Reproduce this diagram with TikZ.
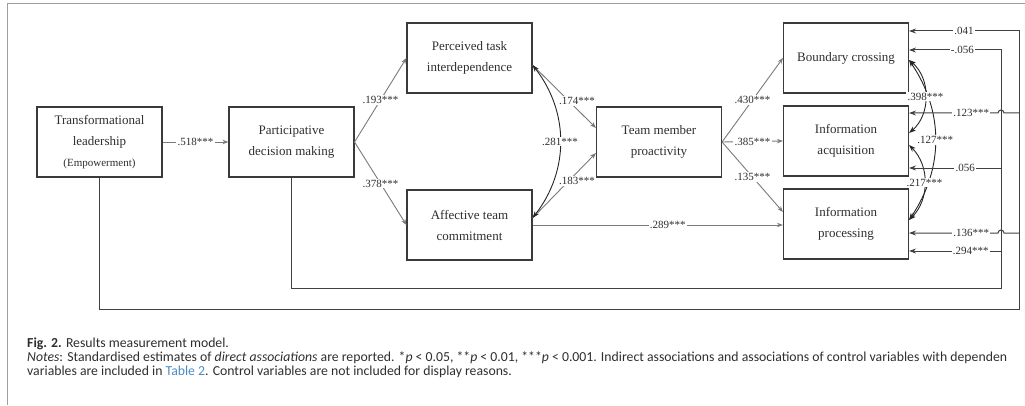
\documentclass[tikz,border=0pt]{standalone}
\usepackage{fontspec}
\setmainfont{Liberation Serif}
\newfontfamily\capfont{Carlito}
\usetikzlibrary{arrows.meta,positioning}
\definecolor{linegray}{HTML}{7A7A7A}
\definecolor{boxgray}{HTML}{3A3A3A}
\definecolor{textgray}{HTML}{2E2E2E}
\definecolor{tableblue}{HTML}{4A8CC6}

\begin{document}
\begin{tikzpicture}[x=1pt,y=1pt,
    var/.style={draw=boxgray,line width=1.1pt,minimum width=125pt,minimum height=70pt,
      align=center,inner sep=2pt,text=textgray,font=\fontsize{13}{21}\selectfont},
    link/.style={draw=linegray,line width=0.9pt,-{Stealth[length=6pt,width=4.5pt]}},
    corr/.style={draw=black!85,line width=0.9pt,{Stealth[length=7pt,width=5pt]}-{Stealth[length=7pt,width=5pt]}},
    ctrl/.style={draw=black!75,line width=1pt},
    ctip/.style={-{Stealth[length=7pt,width=5pt]}},
    est/.style={fill=white,inner sep=1.2pt,text=textgray,font=\fontsize{11}{11}\selectfont},
    capline/.style={anchor=base west,inner sep=0pt,text=textgray,font=\capfont\fontsize{13.75}{14}\selectfont},
  ]
  \useasboundingbox (0,0) rectangle (1025,405);
  \draw[gray!75,line width=1pt] (7,0) -- (7,401) -- (1025,401);

  % variables
  \node[var] (TL) at (99.5,263) {Transformational\\leadership\\{\fontsize{11}{11}\selectfont(Empowerment)}};
  \node[var] (PDM) at (291.5,263) {Participative\\decision making};
  \node[var] (PTI) at (469.5,347) {Perceived task\\interdependence};
  \node[var] (ATC) at (469.5,180) {Affective team\\commitment};
  \node[var] (TMP) at (659,263) {Team member\\proactivity};
  \node[var] (BC) at (846,347) {Boundary crossing};
  \node[var] (IA) at (846,264) {Information\\acquisition};
  \node[var] (IP) at (846,181) {Information\\processing};

  % direct associations
  \draw[link] (TL) -- node[est]{.518***} (PDM);
  \draw[link] (PDM.east) -- node[est]{.193***} (PTI.west);
  \draw[link] (PDM.east) -- node[est]{.378***} (ATC.west);
  \draw[link] ([yshift=-7pt]PTI.east) -- node[est,pos=0.7,above=3pt]{.174***} ([yshift=14pt]TMP.west);
  \draw[link] ([yshift=7pt]ATC.east) -- node[est,pos=0.7,below=3pt]{.183***} ([yshift=-11pt]TMP.west);
  \draw[corr] ([yshift=-7pt]PTI.east) to[bend left=38] node[est]{.281***} ([yshift=7pt]ATC.east);
  \draw[link] (ATC.east) -- node[est,pos=0.54]{.289***} (ATC.east -| IP.west);
  \draw[link] (TMP.east) -- node[est]{.430***} (BC.west);
  \draw[link] (TMP.east) -- node[est]{.385***} (IA.west);
  \draw[link] (TMP.east) -- node[est]{.135***} ([yshift=12pt]IP.west);

  % correlations between outcomes
  \draw[corr] ([yshift=-2pt]BC.east) to[bend left=34] node[est]{.127***} ([yshift=4pt]IP.east);
  \draw[corr] ([yshift=-2pt]BC.east) to[bend left=50] node[est]{.398***} ([yshift=8pt]IA.east);
  \draw[corr] ([yshift=-4pt]IA.east) to[bend left=45] node[est]{.217***} ([yshift=4pt]IP.east);

  % control paths
  \coordinate (oT) at (1019,374);
  \coordinate (oB) at (1019,96);
  \coordinate (iT) at (1001,355);
  \coordinate (iB) at (1001,117);
  \draw[ctrl,ctip] (TL.south) -- (TL.south |- oB) -- (oB) -- (oT) -- node[est]{.041} (oT -| BC.east);
  \draw[ctrl,ctip] (PDM.south) -- (PDM.south |- iB) -- (iB) -- (iT) -- node[est,pos=0.42]{-.056} (iT -| BC.east);
  \coordinate (h123) at (1019,292);
  \coordinate (h136) at (1019,172);
  \coordinate (b056) at (1001,237);
  \coordinate (b294) at (1001,154);
  \draw[ctrl,ctip] (h123) -- ++(-15,0) arc[start angle=0,end angle=180,radius=3]
    -- node[est,pos=0.3]{.123***} (h123 -| IA.east);
  \draw[ctrl,ctip] (h136) -- ++(-15,0) arc[start angle=0,end angle=180,radius=3]
    -- node[est,pos=0.3]{.136***} (h136 -| IP.east);
  \draw[ctrl,ctip] (b056) -- node[est,pos=0.39]{.056} (b056 -| IA.east);
  \draw[ctrl,ctip] (b294) -- node[est,pos=0.33]{.294***} (b294 -| IP.east);

  % caption
  \node[capline] (fig) at (27,58) {\textbf{Fig. 2.} Results measurement model.};
  \node[capline] (notes) at (27,44) {\textit{Notes}: Standardised estimates of \textit{direct associations} are reported. *\textit{p} < 0.05, **\textit{p} < 0.01, ***\textit{p} < 0.001. Indirect associations and associations of control variables with dependen};
  \node[capline] (vars) at (27,30) {variables are included in \textcolor{tableblue}{Table 2}. Control variables are not included for display reasons.};
\end{tikzpicture}
\end{document}
